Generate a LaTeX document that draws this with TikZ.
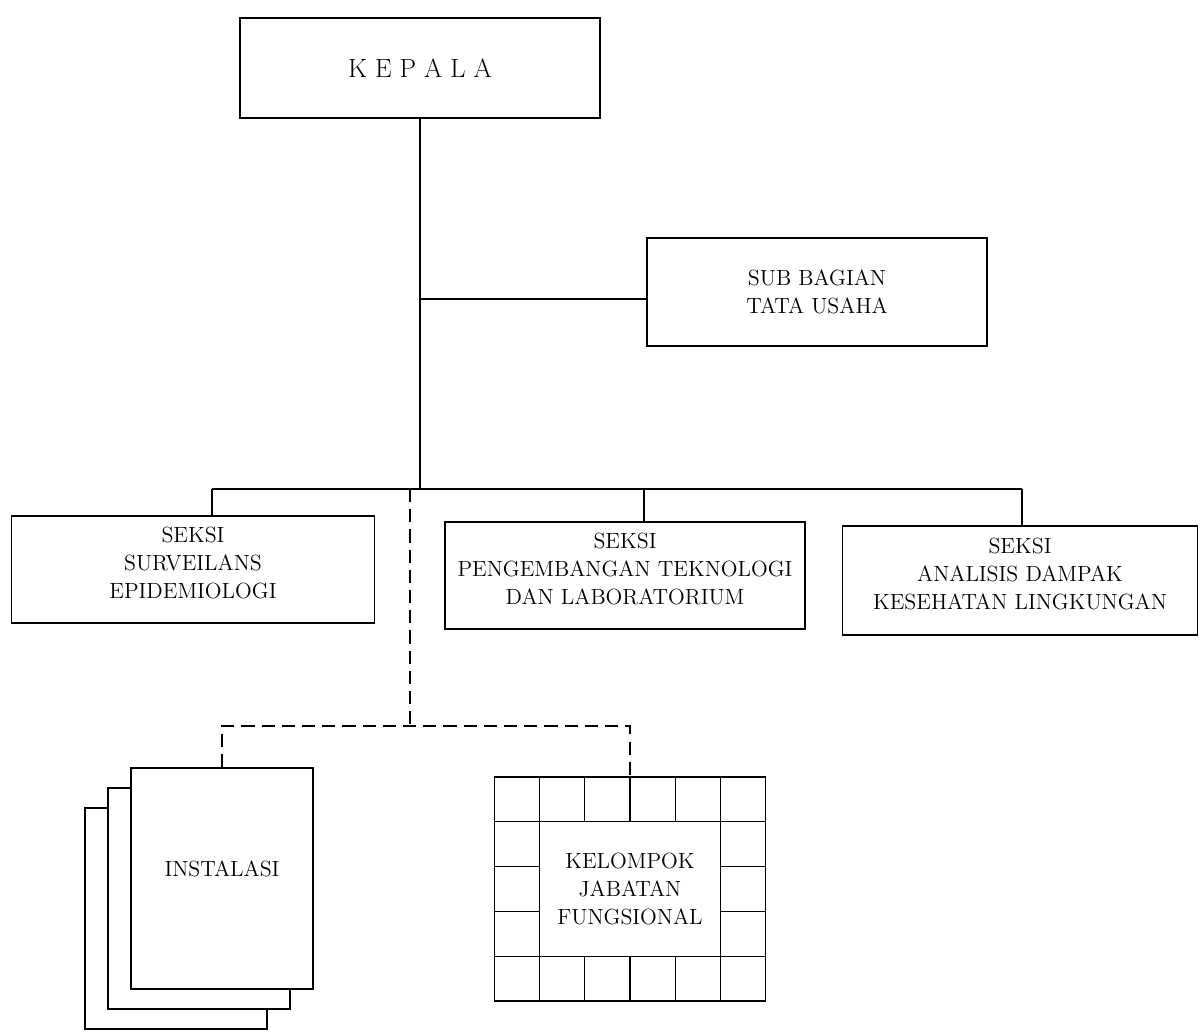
\documentclass[tikz,border=0pt]{standalone}
\usepackage{fontspec}
\usetikzlibrary{positioning}

\tikzset{
  box/.style={draw, line width=.8pt, align=center, inner sep=0pt,
    font=\fontsize{12.5}{16}\selectfont},
  link/.style={line width=.7pt},
  dlink/.style={line width=.7pt, dash pattern=on 7.5pt off 4pt}
}

\begin{document}
\begin{tikzpicture}
\useasboundingbox (0,0) rectangle (24.04,20.64);

% top level
\node[box, minimum width=7.2cm, minimum height=2cm, font=\fontsize{15}{18}\selectfont] (kepala) at (8.4,19.28) {K E P A L A};
\node[box, minimum width=6.8cm, minimum height=2.16cm] (tu) at (16.34,14.8) {SUB BAGIAN\\TATA USAHA};

% seksi
\node[box, minimum width=7.26cm, minimum height=2.14cm] (seksi1) at (3.86,9.25) {SEKSI\\SURVEILANS\\EPIDEMIOLOGI\\[-8pt]\mbox{}};
\node[box, minimum width=7.2cm, minimum height=2.14cm] (seksi2) at (12.5,9.13) {SEKSI\\PENGEMBANGAN TEKNOLOGI\\DAN LABORATORIUM\\[-8pt]\mbox{}};
\node[box, minimum width=7.1cm, minimum height=2.18cm] (seksi3) at (20.4,9.03) {SEKSI\\ANALISIS DAMPAK\\KESEHATAN LINGKUNGAN\\[-8pt]\mbox{}};

% instalasi, three sheets
\node[box, fill=white, minimum width=3.64cm, minimum height=4.42cm] (inst3) at (3.52,2.27) {};
\node[box, fill=white, minimum width=3.64cm, minimum height=4.42cm] (inst2) at (3.98,2.67) {};
\node[box, fill=white, minimum width=3.64cm, minimum height=4.42cm] (inst) at (4.44,3.07) {INSTALASI\\[-4.6pt]\mbox{}};

% kelompok jabatan fungsional
\node[box, minimum width=5.42cm, minimum height=4.48cm] (kjf) at (12.6,2.86) {KELOMPOK\\JABATAN\\FUNGSIONAL};
\foreach \i in {1,...,5} {
  \draw[link] ({9.89+\i*0.9033},5.10) -- ++(0,-0.896);
  \draw[link] ({9.89+\i*0.9033},0.62) -- ++(0,0.896);
}
\draw[link] (9.89,4.204) -- (15.31,4.204);
\draw[link] (9.89,1.516) -- (15.31,1.516);
\draw[link] (10.7933,4.204) -- (10.7933,1.516);
\draw[link] (14.4067,4.204) -- (14.4067,1.516);
\foreach \j in {2,3} {
  \draw[link] (9.89,{5.10-\j*0.896}) -- ++(0.9033,0);
  \draw[link] (15.31,{5.10-\j*0.896}) -- ++(-0.9033,0);
}

% lines
\coordinate (cab) at (8.4,14.66);
\coordinate (bus) at (8.4,10.86);
\coordinate (b1) at (4.24,10.86);
\coordinate (b2) at (12.88,10.86);
\coordinate (b3) at (20.44,10.86);
\draw[link] (kepala.south) -- (bus);
\draw[link] (cab) -- (cab -| tu.west);
\draw[link] (b1) -- (b3);
\draw[link] (b1) -- (b1 |- seksi1.north);
\draw[link] (b2) -- (b2 |- seksi2.north);
\draw[link] (b3) -- (b3 |- seksi3.north);

\coordinate (dtop) at (8.2,10.86);
\coordinate (dmid) at (8.2,6.12);
\draw[dlink] (dtop) -- (dmid);
\draw[dlink] (inst.north) -- (inst.north |- dmid) -- (kjf.north |- dmid) -- (kjf.north);
\end{tikzpicture}
\end{document}
